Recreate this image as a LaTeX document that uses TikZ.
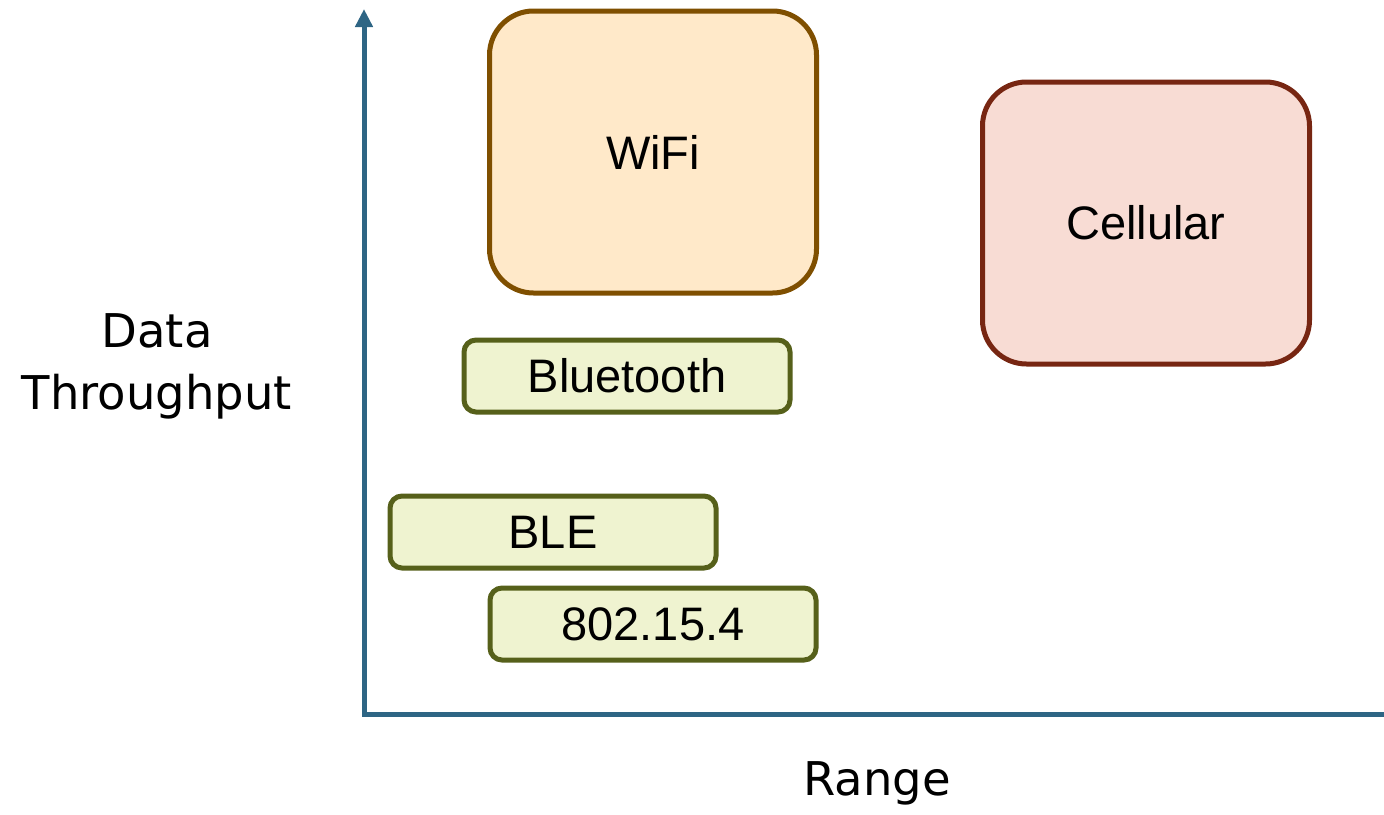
\documentclass[tikz,border=0pt]{standalone}
\usepackage{fontspec}
\setmainfont{Liberation Sans}
\newfontfamily\labelfont{DejaVu Sans}
\usetikzlibrary{arrows.meta}
\definecolor{axisblue}{HTML}{2E6584}
\definecolor{wifiFill}{HTML}{FFE9C9}
\definecolor{wifiLine}{HTML}{7F4F00}
\definecolor{cellFill}{HTML}{F8DCD4}
\definecolor{cellLine}{HTML}{772612}
\definecolor{smallFill}{HTML}{EFF3D0}
\definecolor{smallLine}{HTML}{56601A}
\tikzset{
  bigbox/.style={draw, line width=5pt, rounded corners=44pt, minimum width=327pt, minimum height=282pt, inner sep=0pt, font=\fontsize{47}{56}\selectfont},
  smallbox/.style={draw=smallLine, fill=smallFill, line width=5pt, rounded corners=12pt, minimum width=326pt, minimum height=72pt, inner sep=0pt, font=\fontsize{47}{56}\selectfont},
  axislabel/.style={font=\labelfont\fontsize{46.5}{62}\selectfont, align=center, inner sep=0pt},
  axisline/.style={draw=axisblue, line width=5pt}
}
\begin{document}
\begin{tikzpicture}[x=1pt,y=-1pt]
\useasboundingbox (0,0) rectangle (1384,814);
\coordinate (xend) at (1384,714);
\coordinate (origin) at (364,714);
\coordinate (ytop) at (364,9);
\draw[axisline, line join=miter, -{Triangle[width=17pt,length=18pt]}] (xend) -- (origin) -- (ytop);

\node[bigbox, draw=wifiLine, fill=wifiFill] (wifi) at (653,152) {WiFi};
\node[bigbox, draw=cellLine, fill=cellFill] (cell) at (1146,223) {Cellular};
\node[smallbox] (bt) at (627,376) {Bluetooth};
\node[smallbox] (ble) at (553,532) {BLE};
\node[smallbox] (zig) at (653,624) {802.15.4};

\node[axislabel] (ylab) at (157,366) {Data\\Throughput};
\node[axislabel] (xlab) at (877,783) {Range};
\end{tikzpicture}
\end{document}
